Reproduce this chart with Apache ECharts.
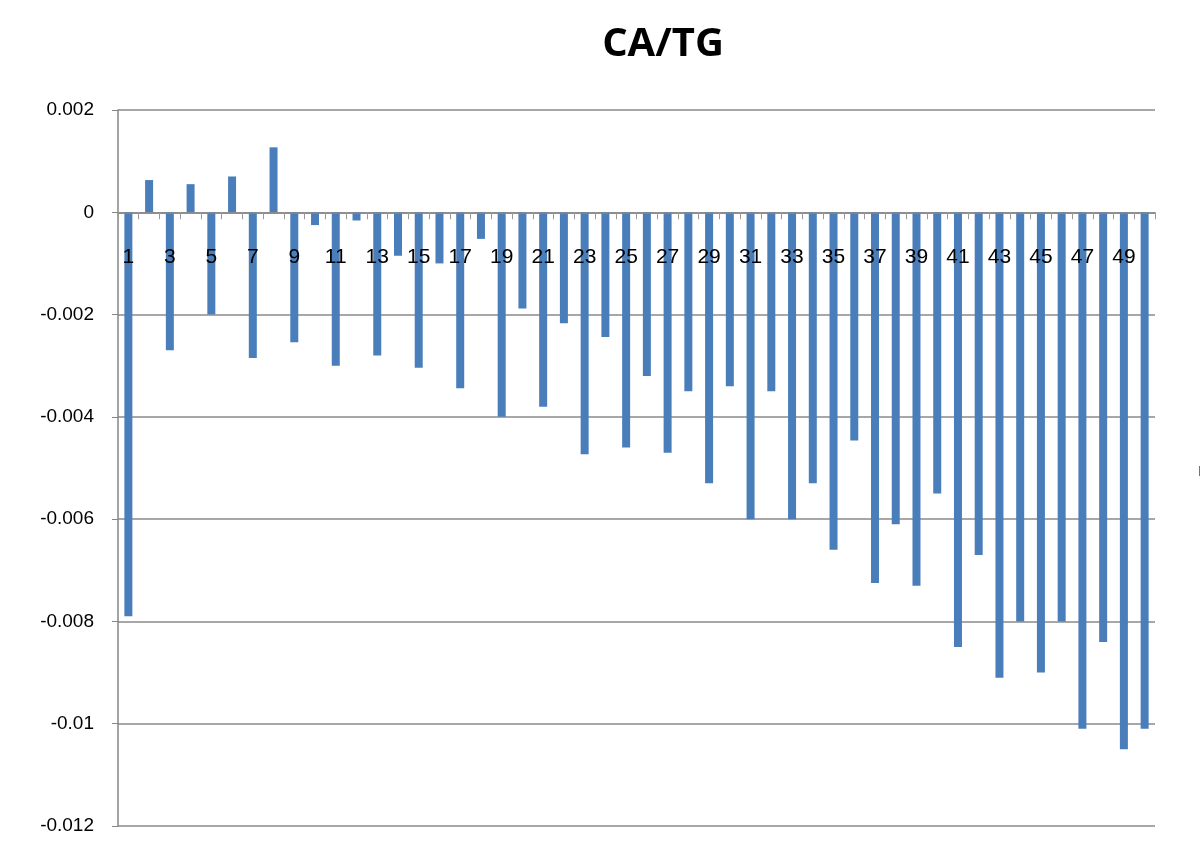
<!DOCTYPE html>
<html>
<head>
<meta charset="utf-8">
<script src="https://cdn.jsdelivr.net/npm/echarts@6/dist/echarts.min.js"></script>
<style>
  html, body { margin: 0; padding: 0; background: #fff; }
  #chart { width: 1200px; height: 850px; }
</style>
</head>
<body>
<div id="chart"></div>
<script>
// categories 1..50
var categories = ['1','2','3','4','5','6','7','8','9','10',
  '11','12','13','14','15','16','17','18','19','20',
  '21','22','23','24','25','26','27','28','29','30',
  '31','32','33','34','35','36','37','38','39','40',
  '41','42','43','44','45','46','47','48','49','50'];

// CA/TG values
var values = [
  -0.0079, 0.00063, -0.0027, 0.00055, -0.0020, 0.0007, -0.00285, 0.00127, -0.00254, -0.00025,
  -0.0030, -0.00016, -0.0028, -0.00085, -0.00304, -0.0010, -0.00344, -0.00052, -0.0040, -0.00188,
  -0.0038, -0.00217, -0.00473, -0.00244, -0.0046, -0.0032, -0.0047, -0.0035, -0.0053, -0.0034,
  -0.0060, -0.0035, -0.0060, -0.0053, -0.0066, -0.00446, -0.00725, -0.0061, -0.0073, -0.0055,
  -0.0085, -0.0067, -0.0091, -0.0080, -0.0090, -0.0080, -0.0101, -0.0084, -0.0105, -0.0101
];

var yMin = -0.012, yMax = 0.002, yStep = 0.002;

var myChart = echarts.init(document.getElementById('chart'));
var option = {
    animation: false,
    title: {
        text: 'CA/TG',
        left: 658,
        top: 20,
        textAlign: 'center',
        textStyle: {
            fontFamily: 'Open Sans',
            fontWeight: 'bold',
            fontSize: 40,
            color: '#000'
        }
    },
    legend: {
        data: ['Series1'],
        left: 1194,
        top: 459,
        icon: 'rect',
        itemWidth: 10,
        itemHeight: 10,
        textStyle: { fontSize: 14 }
    },
    grid: {
        left: 118,
        right: 45,
        top: 110,
        bottom: 24,
        outerBoundsMode: 'none',
        containLabel: false
    },
    xAxis: {
        type: 'category',
        data: categories,
        z: 5,   // labels drawn over the bars
        axisLine: {
            onZero: true,
            lineStyle: { color: '#868686', width: 1.5 }
        },
        axisTick: {
            show: true,
            interval: 0,
            length: 7,
            lineStyle: { color: '#999' }
        },
        axisLabel: {
            // labels sit just under the zero line, inside the plot
            interval: 1,
            margin: -579,
            fontFamily: 'Liberation Sans',
            fontSize: 21,
            color: '#000'
        },
        splitLine: { show: false }
    },
    yAxis: {
        type: 'value',
        min: yMin,
        max: yMax,
        interval: yStep,
        axisLine: {
            show: true,
            lineStyle: { color: '#868686', width: 1.5 }
        },
        axisTick: {
            show: true,
            length: 6,
            lineStyle: { color: '#868686' }
        },
        axisLabel: {
            margin: 24,
            fontFamily: 'Liberation Sans',
            fontSize: 19,
            color: '#000',
            formatter: function (v) {
                return String(parseFloat(v.toFixed(4)));
            }
        },
        splitLine: {
            show: true,
            lineStyle: { color: '#8a8a8a', width: 1.5 }
        }
    },
    series: [
        {
            name: 'Series1',
            type: 'bar',
            data: values,
            barWidth: 8,
            itemStyle: { color: '#4a7ebb' }
        }
    ]
};

myChart.setOption(option);
</script>
</body>
</html>
